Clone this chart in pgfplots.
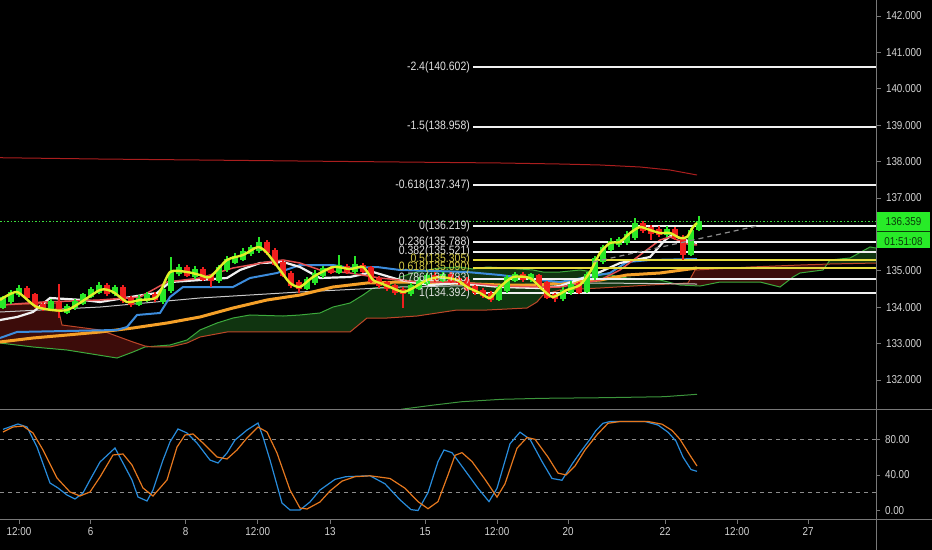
\documentclass[border=0pt]{standalone}
\usepackage{fontspec}
\setmainfont{Liberation Sans}
\newfontfamily\narrowfont{Liberation Sans}[FakeStretch=0.86]
\usepackage{pgfplots}
\usepackage{pgfplotstable}
\pgfplotsset{compat=1.18}
\newcommand{\tf}{\narrowfont\fontsize{11.5}{13}\selectfont}
\newcommand{\ff}{\narrowfont\fontsize{12.2}{14}\selectfont}
\definecolor{cgreen}{RGB}{40,230,40}
\definecolor{cred}{RGB}{240,30,30}
\definecolor{yma}{RGB}{225,240,40}
\definecolor{wma}{RGB}{240,240,240}
\definecolor{pma}{RGB}{230,80,80}
\definecolor{bma}{RGB}{60,140,220}
\definecolor{oma}{RGB}{245,160,40}
\definecolor{twma}{RGB}{200,200,200}
\definecolor{topred}{RGB}{170,30,30}
\definecolor{cloudA}{RGB}{60,170,60}
\definecolor{cloudB}{RGB}{190,70,40}
\definecolor{cloudG}{RGB}{16,52,16}
\definecolor{cloudR}{RGB}{60,12,10}
\definecolor{fibw}{RGB}{240,240,240}
\definecolor{fiby}{RGB}{230,220,60}
\definecolor{fiblw}{RGB}{225,225,225}
\definecolor{fibly}{RGB}{215,205,70}
\definecolor{dotg}{RGB}{60,220,60}
\definecolor{boxgreen}{RGB}{40,235,40}
\definecolor{boxtext}{RGB}{10,60,10}
\definecolor{axgray}{RGB}{120,120,120}
\definecolor{lblgray}{RGB}{210,210,210}
\definecolor{stb}{RGB}{40,140,220}
\definecolor{sto}{RGB}{230,120,30}
\definecolor{dashg}{RGB}{140,140,140}
\definecolor{lowgreen}{RGB}{60,150,60}

\pgfplotstableread{
x o h l c
3 133.98 134.32 133.95 134.27
11 134.15 134.48 134.10 134.43
19 134.33 134.60 134.28 134.53
51 133.93 134.22 133.90 134.17
67 133.85 134.08 133.80 134.03
75 133.97 134.22 133.93 134.17
83 134.10 134.40 134.06 134.35
91 134.28 134.56 134.24 134.50
99 134.40 134.68 134.36 134.60
115 134.35 134.62 134.30 134.55
139 134.06 134.33 134.02 134.26
147 134.18 134.42 134.14 134.36
163 134.15 134.58 134.10 134.50
171 134.45 135.38 134.40 134.98
179 134.90 135.18 134.85 135.10
195 134.82 135.12 134.78 135.05
219 134.72 135.16 134.66 135.10
227 135.02 135.40 134.98 135.33
235 135.22 135.48 135.18 135.42
243 135.30 135.62 135.26 135.55
251 135.45 135.72 135.40 135.65
259 135.55 135.93 135.50 135.80
307 134.50 134.84 134.46 134.78
315 134.66 135.02 134.62 134.95
323 134.85 135.14 134.80 135.08
339 134.94 135.43 134.90 135.16
355 134.96 135.40 134.92 135.18
411 134.35 134.66 134.30 134.60
419 134.50 134.82 134.46 134.75
427 134.65 134.94 134.60 134.88
443 134.72 134.98 134.68 134.92
499 134.20 134.62 134.16 134.55
507 134.45 134.88 134.40 134.82
515 134.72 134.98 134.68 134.92
531 134.74 134.95 134.70 134.90
563 134.22 134.55 134.18 134.48
571 134.38 134.72 134.34 134.65
587 134.42 134.96 134.38 134.90
595 134.80 135.42 134.76 135.35
603 135.25 135.72 135.20 135.66
611 135.58 135.90 135.54 135.82
619 135.70 135.94 135.66 135.88
627 135.76 136.08 135.72 136.00
635 135.90 136.45 135.86 136.30
667 135.98 136.24 135.94 136.15
691 135.43 136.18 135.40 136.12
699 136.12 136.51 136.08 136.36
}\greentab

\pgfplotstableread{
x o h l c
27 134.52 134.58 134.22 134.26
35 134.35 134.40 133.97 134.02
43 134.10 134.15 133.90 133.95
59 134.15 134.65 133.70 133.86
107 134.62 134.66 134.30 134.35
123 134.55 134.60 134.12 134.16
131 134.25 134.30 134.00 134.05
155 134.36 134.42 134.15 134.20
187 135.10 135.16 134.82 134.86
203 135.06 135.10 134.72 134.76
211 134.88 134.92 134.55 134.72
267 135.78 135.84 135.44 135.48
275 135.58 135.64 135.12 135.16
283 135.24 135.30 134.82 134.86
291 134.95 135.00 134.52 134.58
299 134.68 134.74 134.40 134.50
331 135.08 135.14 134.90 134.94
347 135.14 135.20 134.92 134.96
363 135.16 135.22 134.94 134.98
371 135.10 135.14 134.66 134.70
379 134.80 134.85 134.52 134.58
387 134.68 134.72 134.44 134.50
395 134.60 134.64 134.34 134.40
403 134.50 134.55 133.98 134.36
435 134.88 134.96 134.68 134.72
451 134.92 134.96 134.66 134.70
459 134.80 134.85 134.62 134.66
467 134.78 134.82 134.44 134.48
475 134.58 134.62 134.33 134.38
483 134.48 134.52 134.26 134.30
491 134.40 134.44 134.15 134.20
523 134.92 134.96 134.70 134.74
539 134.88 134.92 134.54 134.58
547 134.68 134.72 134.22 134.26
555 134.36 134.40 134.15 134.22
579 134.66 134.70 134.36 134.40
643 136.30 136.36 136.05 136.10
651 136.20 136.26 135.85 136.02
659 136.14 136.22 135.94 135.98
675 136.15 136.20 135.85 135.90
683 135.93 135.98 135.30 135.43
}\redtab

\begin{document}
\begin{tikzpicture}
\useasboundingbox (0,0) rectangle (932bp,550bp);
\fill[black] (0,0) rectangle (932bp,550bp);
\begin{axis}[at={(0bp,140bp)}, anchor=south west, scale only axis,
  width=876bp, height=410bp, xmin=0, xmax=876, ymin=131.176, ymax=142.44,
  axis line style={draw=none}, xtick=\empty,
  ytick={132,133,134,135,137,138,139,140,141,142},
  yticklabels={132.000,133.000,134.000,135.000,137.000,138.000,139.000,140.000,141.000,142.000},
  ytick pos=right, tick align=outside, major tick length=5bp,
  tick style={draw=axgray, line width=0.8bp},
  yticklabel style={font=\tf, text=lblgray, xshift=1.5bp},
  clip=false]
% cloud fills (between senkou A and senkou B)
\addplot[fill=cloudR, draw=none] coordinates {
(0,133.016) (33,132.907) (67,132.824) (117,132.604) (133,132.769) (145,132.907) (150,132.918)
(145,132.934) (133,133.044) (100,133.374) (62,133.511) (57,134.115) (0,134.060)};
\addplot[fill=cloudG, draw=none] coordinates {
(150,132.918) (170,132.962) (187,133.099) (200,133.374) (217,133.566) (233,133.703) (250,133.786)
(283,133.758) (300,133.786) (320,133.841) (333,134.005) (350,134.115) (363,134.335)
(373,134.527) (387,134.555) (400,134.830) (413,134.940) (427,135.022) (440,135.077)
(460,135.104) (473,135.049) (487,135.104) (507,135.077) (533,135.022) (543,134.967)
(560,134.967) (580,135.022) (600,134.940) (627,134.802) (660,134.747) (672,134.655)
(650,134.610) (600,134.527) (560,134.473) (543,134.335) (537,134.143) (527,133.978)
(487,133.923) (457,133.923) (417,133.758) (387,133.703) (367,133.703) (350,133.319)
(300,133.319) (227,133.319) (200,133.181) (187,133.016) (170,132.907) (153,132.907)};
\addplot[fill=cloudR, draw=none] coordinates {
(672,134.655) (680,134.610) (700,134.582) (720,134.692) (760,134.692) (780,134.555)
(793,134.830) (800,134.940) (823,135.022) (827,135.18)
(800,135.159) (750,135.104) (695,135.022) (688,134.665)};
\addplot[fill=cloudG, draw=none] coordinates {
(827,135.18) (830,135.297) (850,135.352) (870,135.654) (876,135.626) (876,135.214) (830,135.187)};
% cloud lines
\addplot[cloudA, line width=1bp] coordinates {
(0,133.016) (33,132.907) (67,132.824) (117,132.604) (133,132.769) (145,132.907)
(170,132.962) (187,133.099) (200,133.374) (217,133.566) (233,133.703) (250,133.786)
(283,133.758) (300,133.786) (320,133.841) (333,134.005) (350,134.115) (363,134.335)
(373,134.527) (387,134.555) (400,134.830) (413,134.940) (427,135.022) (440,135.077)
(460,135.104) (473,135.049) (487,135.104) (507,135.077) (533,135.022) (543,134.967)
(560,134.967) (580,135.022) (600,134.940) (627,134.802) (660,134.747) (680,134.610)
(700,134.582) (720,134.692) (760,134.692) (780,134.555) (793,134.830) (800,134.940)
(823,135.022) (830,135.297) (850,135.352) (870,135.654) (876,135.626)};
\addplot[cloudB, line width=1bp] coordinates {
(0,134.060) (57,134.115) (62,133.511) (100,133.374) (133,133.044) (145,132.934)
(153,132.907) (170,132.907) (187,133.016) (200,133.181) (227,133.319) (300,133.319)
(350,133.319) (367,133.703) (387,133.703) (417,133.758) (457,133.923) (487,133.923)
(527,133.978) (537,134.143) (543,134.335) (560,134.473) (600,134.527) (650,134.610)
(688,134.665) (695,135.022) (750,135.104) (800,135.159) (830,135.187) (876,135.214)};
% top red and lower green
\addplot[topred, line width=1bp] coordinates {
(0,138.107) (100,138.071) (200,138.044) (300,138.016) (400,137.989) (500,137.962)
(560,137.934) (600,137.907) (640,137.852) (670,137.769) (697,137.632)};
\addplot[lowgreen, line width=1bp] coordinates {
(401,131.195) (434,131.313) (462,131.404) (502,131.470) (543,131.497) (604,131.514)
(664,131.541) (697,131.607)};
% thin white
\addplot[twma, line width=1bp] coordinates {
(0,133.868) (100,134.005) (200,134.253) (300,134.418) (400,134.555) (500,134.610)
(600,134.665) (697,134.637)};
% orange
\addplot[oma, line width=3bp] coordinates {
(0,133.044) (33,133.154) (67,133.236) (100,133.319) (133,133.429) (167,133.566)
(200,133.731) (233,133.978) (267,134.198) (300,134.335) (333,134.555) (367,134.665)
(400,134.692) (450,134.665) (500,134.610) (540,134.610) (560,134.665) (600,134.747)
(627,134.885) (660,134.940) (697,135.077)};
% blue
\addplot[bma, line width=2bp] coordinates {
(0,133.154) (17,133.319) (117,133.374) (127,133.456) (137,133.786) (160,133.841)
(170,134.280) (183,134.555) (233,134.555) (250,134.802) (277,134.940) (300,135.159)
(333,135.159) (350,135.077) (377,135.104) (400,135.022) (467,134.967) (500,134.885)
(540,134.747) (560,134.692) (610,134.940) (627,135.242) (650,135.297) (697,135.324)};
% white thick
\addplot[wma, line width=2.2bp] coordinates {
(0,133.648) (17,133.731) (33,133.868) (50,134.253) (83,134.198) (100,134.143)
(143,134.335) (157,134.390) (170,134.692) (200,134.747) (227,134.802) (240,135.022)
(260,135.214) (283,135.242) (300,135.104) (320,134.802) (350,134.830) (373,134.967)
(400,134.747) (430,134.610) (460,134.665) (500,134.555) (540,134.527) (560,134.582)
(600,134.967) (620,135.214) (650,135.379) (665,135.846) (672,135.984) (685,135.846)
(697,135.764)};
% pink
\addplot[pma, line width=1.5bp] coordinates {
(0,134.060) (43,134.143) (100,134.198) (140,134.280) (167,134.692) (200,134.802)
(233,135.077) (267,135.242) (283,135.297) (300,135.214) (320,135.022) (350,134.940)
(380,134.802) (420,134.692) (460,134.692) (500,134.582) (540,134.555) (560,134.555)
(600,134.747) (620,135.022) (640,135.434) (660,135.846) (670,135.929) (690,135.709)
(697,135.709)};
% fib lines
\addplot[fibw, line width=2bp] coordinates {(473,140.602) (876,140.602)};
\addplot[fibw, line width=2bp] coordinates {(473,138.958) (876,138.958)};
\addplot[fibw, line width=2bp] coordinates {(473,137.347) (876,137.347)};
\addplot[fibw, line width=2bp] coordinates {(473,136.219) (876,136.219)};
\addplot[fibw, line width=2bp] coordinates {(473,135.788) (876,135.788)};
\addplot[fibw, line width=2bp] coordinates {(473,135.521) (876,135.521)};
\addplot[fiby, line width=2bp] coordinates {(473,135.305) (876,135.305)};
\addplot[fiby, line width=2bp] coordinates {(473,135.090) (876,135.090)};
\addplot[fibw, line width=2bp] coordinates {(473,134.783) (876,134.783)};
\addplot[fibw, line width=2bp] coordinates {(473,134.392) (876,134.392)};
% candles
\addplot[draw=none, mark=none, forget plot, error bars/.cd, y dir=plus, y explicit, error mark=none,
  error bar style={draw=cgreen, line width=1.4bp}]
  table[x=x, y=l, y error expr=\thisrow{h}-\thisrow{l}] {\greentab};
\addplot[draw=none, mark=none, forget plot, error bars/.cd, y dir=plus, y explicit, error mark=none,
  error bar style={draw=cgreen, line width=6bp}]
  table[x=x, y=o, y error expr=\thisrow{c}-\thisrow{o}] {\greentab};
\addplot[draw=none, mark=none, forget plot, error bars/.cd, y dir=plus, y explicit, error mark=none,
  error bar style={draw=cred, line width=1.4bp}]
  table[x=x, y=l, y error expr=\thisrow{h}-\thisrow{l}] {\redtab};
\addplot[draw=none, mark=none, forget plot, error bars/.cd, y dir=plus, y explicit, error mark=none,
  error bar style={draw=cred, line width=6bp}]
  table[x=x, y=c, y error expr=\thisrow{o}-\thisrow{c}] {\redtab};
% yellow
\addplot[yma, line width=2.4bp, smooth, tension=0.4] coordinates {
(0,134.198) (17,134.418) (37,134.005) (67,133.923) (100,134.473) (113,134.418)
(127,134.143) (140,134.198) (157,134.280) (170,134.967) (187,134.967) (200,134.885)
(210,134.830) (227,135.297) (243,135.434) (258,135.654) (267,135.489) (280,135.022)
(290,134.665) (300,134.555) (313,134.830) (333,135.104) (350,135.049) (363,135.104)
(373,134.747) (380,134.665) (390,134.555) (403,134.418) (413,134.527) (427,134.747)
(440,134.830) (457,134.747) (467,134.555) (480,134.390) (490,134.253) (500,134.555)
(513,134.830) (530,134.802) (543,134.473) (553,134.280) (567,134.473) (580,134.610)
(590,134.967) (600,135.489) (610,135.764) (620,135.791) (630,136.038) (640,136.203)
(650,136.121) (660,136.038) (670,136.038) (680,135.901) (687,135.929) (693,136.203)
(697,136.313)};
% dashed trend, dotted price
\addplot[dashg, line width=1.2bp, dash pattern=on 5bp off 4bp] coordinates {(593,135.242) (757,136.231)};
\addplot[dotg, line width=1bp, dash pattern=on 1.5bp off 2bp] coordinates {(0,136.359) (876,136.359)};
% fib labels
\node[anchor=east, inner sep=0pt, text=fiblw, font=\ff] at (axis cs:470,140.602) {-2.4(140.602)};
\node[anchor=east, inner sep=0pt, text=fiblw, font=\ff] at (axis cs:470,138.958) {-1.5(138.958)};
\node[anchor=east, inner sep=0pt, text=fiblw, font=\ff] at (axis cs:470,137.347) {-0.618(137.347)};
\node[anchor=east, inner sep=0pt, text=fiblw, font=\ff] at (axis cs:470,136.219) {0(136.219)};
\node[anchor=east, inner sep=0pt, text=fiblw, font=\ff] at (axis cs:470,135.788) {0.236(135.788)};
\node[anchor=east, inner sep=0pt, text=fiblw, font=\ff] at (axis cs:470,135.521) {0.382(135.521)};
\node[anchor=east, inner sep=0pt, text=fibly, font=\ff] at (axis cs:470,135.305) {0.5(135.305)};
\node[anchor=east, inner sep=0pt, text=fibly, font=\ff] at (axis cs:470,135.090) {0.618(135.090)};
\node[anchor=east, inner sep=0pt, text=fiblw, font=\ff] at (axis cs:470,134.783) {0.786(134.783)};
\node[anchor=east, inner sep=0pt, text=fiblw, font=\ff] at (axis cs:470,134.392) {1(134.392)};
\end{axis}

\begin{axis}[at={(0bp,30bp)}, anchor=south west, scale only axis,
  width=876bp, height=110bp, xmin=0, xmax=876, ymin=-10.67, ymax=112.92,
  axis line style={draw=none},
  ytick={0,40,80}, yticklabels={0.00,40.00,80.00}, ytick pos=right,
  xtick={19,90.7,185.7,257.7,330,425,497,568,665,737,808},
  xticklabels={12:00,6,8,12:00,13,15,12:00,20,22,12:00,27}, xtick pos=bottom,
  tick align=outside, major tick length=4bp,
  tick style={draw=axgray, line width=0.8bp},
  yticklabel style={font=\tf, text=lblgray, xshift=1.5bp},
  xticklabel style={font=\tf, text=lblgray},
  clip=false]
\addplot[dashg, line width=1bp, dash pattern=on 4bp off 4bp] coordinates {(0,80) (876,80)};
\addplot[dashg, line width=1bp, dash pattern=on 4bp off 4bp] coordinates {(0,20) (876,20)};
\addplot[stb, line width=1.2bp] coordinates {
(3,91.2) (18,97.2) (27,93.8) (37,71.3) (50,30.9) (58,25.3) (67,17.4) (75,12.9) (83,19.7)
(90,34.3) (100,54.5) (115,70.2) (123,53.4) (132,34.3) (138,15.2) (147,10.7) (153,23)
(163,56.7) (170,77) (178,91.6) (187,87.1) (197,75.8) (210,56.7) (218,53.4) (227,64.6)
(235,79.2) (247,90.4) (258,98.3) (263,82.6) (270,56.7) (282,8.4) (290,0.6) (300,0.6)
(310,9.6) (320,23) (335,35) (346,38) (370,39) (385,30) (400,12) (411,1) (418,0) (428,20)
(438,55) (444,68) (452,65) (465,45) (478,25) (489,10) (497,25) (510,75) (520,88) (530,80)
(542,55) (552,36) (562,34) (572,52) (580,65) (590,80) (596,90) (603,98) (610,100)
(645,100) (658,96) (668,88) (676,78) (683,60) (691,46) (697,44)};
\addplot[sto, line width=1.2bp] coordinates {
(3,88.2) (13,93.8) (23,94.9) (33,87.1) (43,68) (57,36.5) (70,20.8) (80,16.3) (90,20.8)
(100,37.6) (113,62.4) (123,63.5) (132,51.1) (143,25.3) (153,16.3) (167,34.3) (177,71.3)
(185,84.8) (193,86) (203,75.8) (217,60.1) (227,57.9) (237,68) (247,81.5) (258,93.8)
(267,88.2) (277,64.6) (290,23) (300,2.8) (307,1.7) (320,9.6) (330,22) (342,33) (355,38)
(370,39) (390,36) (405,25) (418,10) (428,2) (438,10) (448,40) (455,62) (462,65) (472,55)
(485,35) (497,15) (505,30) (517,70) (527,82) (535,80) (548,60) (558,42) (566,40) (575,50)
(585,68) (597,85) (608,98) (620,100) (648,100) (662,97) (672,90) (680,80) (690,62) (697,50)};
\end{axis}

\draw[axgray, line width=1bp] (0,140bp) -- (932bp,140bp);
\draw[axgray, line width=1bp] (0,30bp) -- (932bp,30bp);
\draw[axgray, line width=1bp] (876bp,0) -- (876bp,550bp);
\fill[boxgreen] (877bp,302bp) rectangle (930bp,338.3bp);
\draw[boxtext, line width=0.8bp] (877bp,318.3bp) -- (930bp,318.3bp);
\node[text=boxtext, font=\tf] at (903.5bp,328.3bp) {136.359};
\node[text=boxtext, font=\tf] at (903.5bp,308.3bp) {01:51:08};
\end{tikzpicture}
\end{document}
